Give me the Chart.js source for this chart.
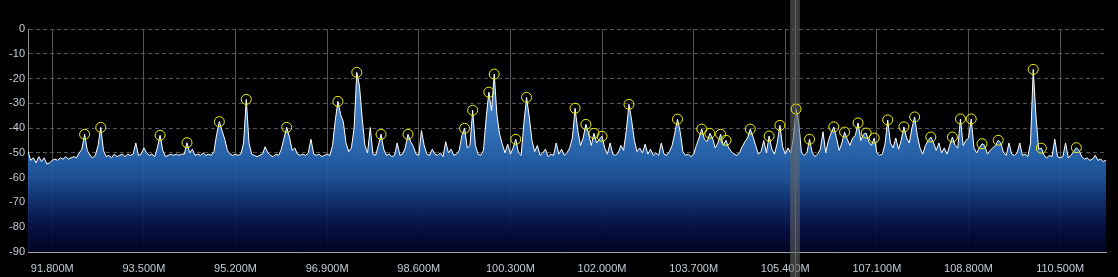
<!DOCTYPE html>
<html>
<head>
<meta charset="utf-8">
<title>Spectrum</title>
<script src="https://cdn.jsdelivr.net/npm/chart.js@4/dist/chart.umd.min.js"></script>
<style>
  html, body { margin: 0; padding: 0; background: #000; }
  #wrap { width: 1118px; height: 277px; position: relative; }
</style>
</head>
<body>
<div id="wrap"><canvas id="spec"></canvas></div>
<script>
// --- spectrum data, dBFS per 50 kHz bin ---
var startMHz = 91.35;
var binMHz = 0.05;
var spectrumDb = [
  -49.5, -53, -52, -54, -51.5, -53.5, -52, -54.5, -54, -53, -52.5, -53, -52, -52.5, -51.5, -52.5, -52, -51.5, -52, -50,
  -48.5, -42.5, -49, -51, -52, -51, -47, -39.7, -49, -51.5, -51, -52, -50.5, -51.5, -51, -50.5, -51.5, -50.5, -51, -50.5,
  -46, -51, -50.5, -48, -50, -51, -50.5, -51.5, -48, -42.9, -49, -51.5, -51, -50.5, -51, -50.5, -51, -50.5, -50.5, -45.9,
  -50, -48.5, -51, -50.5, -51, -50, -51, -50.5, -51, -49.5, -42.5, -37.4, -41, -44.5, -49, -50.5, -51, -50.5, -51, -50.5,
  -46, -28.4, -46, -50.5, -51, -51.5, -51, -50.5, -47.5, -50, -51, -51.5, -50.5, -51, -48.5, -44, -39.7, -43.5, -49, -48,
  -50.5, -51, -50.5, -51, -50, -44.5, -50.5, -51, -50.5, -51.5, -51, -50.5, -51, -47, -37, -29.2, -34.5, -37.5, -46, -49.5,
  -48, -40, -17.5, -23, -36, -47, -50, -39.8, -50.5, -51, -47, -42.5, -48.5, -51, -50.5, -51.5, -51, -46, -51, -50.5,
  -48, -42.5, -45.5, -47.5, -50.5, -51, -41, -47, -50.5, -51, -48.5, -50.5, -51, -50, -51.5, -45.5, -50, -48.5, -51, -50.5,
  -49, -43, -40.1, -48, -47, -32.8, -47, -50.5, -51, -49, -36, -25.5, -33, -18.2, -34.7, -42.5, -46.5, -50, -46.5, -50.5,
  -48, -44.5, -50, -51, -38, -27.6, -35.5, -45, -49.5, -47, -51, -50, -48.5, -51.5, -50.5, -51, -46, -50.5, -48.5, -51,
  -50, -48, -44, -32, -41, -47, -44, -38.5, -42, -47, -42.1, -46, -44.5, -43.3, -48, -50.5, -46, -50.5, -51, -50,
  -47, -49, -41, -30.4, -37, -45, -49.5, -48, -50, -46.5, -50.5, -48.5, -51, -50, -51, -46, -50.5, -51, -49.5, -47,
  -42, -36.4, -41.5, -49.5, -51, -50.5, -51.5, -50.5, -47, -44, -40.4, -44.5, -45.5, -42.1, -44, -48, -46, -42.5, -47, -44.9,
  -48, -49.5, -50.5, -51, -50, -47.5, -45.5, -44, -40.4, -43.5, -47, -50.5, -49.5, -45, -50, -43.2, -48.5, -50.5, -46, -38.9,
  -47.5, -50.5, -48, -50, -44, -32.3, -38, -50, -51, -50, -44.5, -50, -51.5, -50.5, -48.5, -41.5, -50, -45, -42, -39.5,
  -44, -49, -46, -41.6, -44.5, -47, -44, -43, -37.9, -45, -42.5, -42, -45.5, -47, -44, -50, -51, -50.5, -46.5, -36.7,
  -46, -48, -44, -48.5, -45, -39.5, -44, -46, -40, -35.5, -43, -48, -50.5, -47, -45, -43.6, -46, -49, -46, -50,
  -48, -50.5, -47, -43.6, -47, -48, -36.3, -47, -45, -44, -36.3, -48, -50, -48, -46.3, -47, -50.5, -49, -48, -47,
  -44.9, -46, -50, -51, -46, -50.5, -51, -50, -46, -51, -50.5, -51.5, -46, -16.3, -35, -48.5, -48.1, -51, -52, -51,
  -51.5, -44.5, -51.5, -52, -51.5, -46, -52, -51, -49.5, -47.9, -49, -51.5, -52.5, -52, -53, -52.5, -51, -53, -52.5, -53.5,
  -53
];

// detected carriers (circled)
var peakMHz = [
  92.40, 92.70, 93.80, 94.30, 94.90, 95.40, 96.15, 97.10, 97.45, 97.90, 98.40,
  99.45, 99.60, 99.90, 100.00, 100.40, 100.60, 101.50, 101.70, 101.85, 102.00, 102.50,
  103.40, 103.85, 104.00, 104.20, 104.30, 104.75, 105.10, 105.30, 105.60, 105.85,
  106.30, 106.50, 106.75, 106.90, 107.05, 107.30, 107.60, 107.80, 108.10,
  108.50, 108.65, 108.85, 109.05, 109.35, 110.00, 110.15, 110.80
];

var xTickMHz = [91.8, 93.5, 95.2, 96.9, 98.6, 100.3, 102.0, 103.7, 105.4, 107.1, 108.8, 110.5];
var yTickDb  = [0, -10, -20, -30, -40, -50, -60, -70, -80, -90];
var tunedMHz = 105.58;
var filterHalfMHz = 0.09;

var FONT = { family: '"Liberation Sans", Arial, sans-serif', size: 11 };
var LABEL = '#c4ccd6';
var GRID  = '#555555';

var specPts = spectrumDb.map(function (v, i) {
  return { x: +(startMHz + i * binMHz).toFixed(2), y: v };
});
var peakPts = peakMHz.map(function (f) {
  var idx = Math.round((f - startMHz) / binMHz);
  return { x: f, y: spectrumDb[idx] };
});

// tuned-frequency band + red marker
var tunerPlugin = {
  id: 'tuner',
  beforeDatasetDraw: function (chart, args) {
    if (args.index !== 0) return;
    var ctx = chart.ctx, x = chart.scales.x;
    var x1 = x.getPixelForValue(tunedMHz - filterHalfMHz);
    var x2 = x.getPixelForValue(tunedMHz + filterHalfMHz);
    ctx.save();
    ctx.fillStyle = 'rgba(100,100,100,0.6)';
    ctx.fillRect(x1, 0, x2 - x1, chart.height);
    ctx.restore();
  },
  afterDatasetsDraw: function (chart) {
    var ctx = chart.ctx;
    var px = Math.round(chart.scales.x.getPixelForValue(tunedMHz)) + 0.5;
    ctx.save();
    ctx.strokeStyle = '#ff2222';
    ctx.lineWidth = 1;
    ctx.beginPath();
    ctx.moveTo(px, 0);
    ctx.lineTo(px, chart.height);
    ctx.stroke();
    ctx.restore();
  }
};

function fillGradient(ctx) {
  var chart = ctx.chart;
  if (!chart.chartArea) return 'rgba(40,100,180,0.9)';
  var y = chart.scales.y;
  var g = chart.ctx.createLinearGradient(0, y.getPixelForValue(-15), 0, y.getPixelForValue(-90));
  g.addColorStop(0.00, 'rgba(100,155,220,0.92)');
  g.addColorStop(0.33, 'rgba(56,122,200,0.92)');
  g.addColorStop(0.47, 'rgba(42,106,182,0.92)');
  g.addColorStop(0.60, 'rgba(30,86,160,0.92)');
  g.addColorStop(0.73, 'rgba(16,50,116,0.92)');
  g.addColorStop(0.87, 'rgba(6,16,70,0.92)');
  g.addColorStop(1.00, 'rgba(2,4,36,0.95)');
  return g;
}

new Chart(document.getElementById('spec'), {
  type: 'line',
  data: {
    datasets: [{
      label: 'peaks',
      data: peakPts,
      showLine: false,
      pointStyle: 'circle',
      pointRadius: 5,
      pointHoverRadius: 5,
      pointBorderWidth: 1,
      pointBorderColor: '#f2f200',
      pointBackgroundColor: 'rgba(0,0,0,0)'
    }, {
      label: 'spectrum',
      data: specPts,
      borderColor: '#ffffff',
      borderWidth: 1,
      pointRadius: 0,
      tension: 0,
      fill: 'start',
      backgroundColor: fillGradient
    }]
  },
  options: {
    responsive: true,
    maintainAspectRatio: false,
    devicePixelRatio: 1,
    animation: false,
    events: [],
    layout: { padding: { top: 29, right: 12, left: 0, bottom: 0 } },
    plugins: {
      legend: { display: false },
      tooltip: { enabled: false }
    },
    scales: {
      x: {
        type: 'linear',
        min: 91.35,
        max: 111.35,
        afterBuildTicks: function (s) { s.ticks = xTickMHz.map(function (v) { return { value: v }; }); },
        afterFit: function (s) { s.height = 25; },
        ticks: {
          color: LABEL, font: FONT, padding: 10, maxRotation: 0, autoSkip: false,
          callback: function (v) { return Number(v).toFixed(3) + 'M'; }
        },
        grid: { color: GRID, drawTicks: false },
        border: { color: '#a8a8a8' }
      },
      y: {
        min: -90,
        max: 0,
        afterBuildTicks: function (s) { s.ticks = yTickDb.map(function (v) { return { value: v }; }); },
        afterFit: function (s) { s.width = 28; },
        ticks: { color: LABEL, font: FONT, padding: 3 },
        grid: {
          drawTicks: false,
          color: function (c) { return c.tick && c.tick.value === -90 ? 'rgba(0,0,0,0)' : GRID; }
        },
        border: { color: '#909090', dash: [4, 3] }
      }
    }
  },
  plugins: [tunerPlugin]
});
</script>
</body>
</html>
